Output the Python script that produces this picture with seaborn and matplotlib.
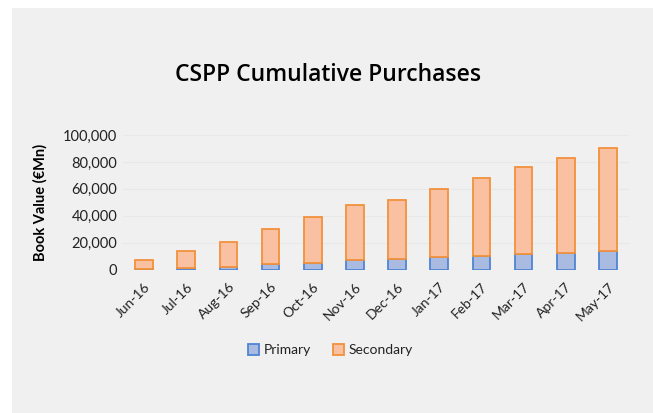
import numpy as np
import pandas as pd
import matplotlib
matplotlib.use("Agg")
import matplotlib.pyplot as plt
import seaborn as sns
from matplotlib.patches import Rectangle

# data (EUR mn, book value)
months = ["Jun-16", "Jul-16", "Aug-16", "Sep-16", "Oct-16", "Nov-16",
          "Dec-16", "Jan-17", "Feb-17", "Mar-17", "Apr-17", "May-17"]
primary = [500, 1000, 1700, 4000, 4700, 6700, 7700, 9200, 9700, 11200, 12100, 13900]
total = [7100, 13800, 20200, 30300, 38800, 47700, 51700, 60100, 67800, 76000, 82700, 90300]
secondary = [t - p for t, p in zip(total, primary)]

df = pd.DataFrame({"month": months, "Primary": primary, "Secondary": secondary})

sns.set_theme(style="white")
plt.rcParams["font.family"] = ["Lato", "DejaVu Sans"]

bg = "#f0f0f0"
fig = plt.figure(figsize=(6.53, 4.13), dpi=100, facecolor="white")
fig.patches.append(Rectangle((12 / 653, 0), 1, 1 - 8 / 413, transform=fig.transFigure,
                             facecolor=bg, edgecolor="none", zorder=-10))
ax = fig.add_axes([123 / 653, 1 - 269.5 / 413, 506 / 653, 134.5 / 413])
ax.set_facecolor(bg)

# stacked bars: primary at the bottom, secondary on top
sns.barplot(data=df, x="month", y="Primary", color="#aabbe2", edgecolor="#4f84d4",
            linewidth=1.3, width=0.42, ax=ax, label="Primary", saturation=1)
sns.barplot(data=df, x="month", y="Secondary", bottom=df["Primary"], color="#f9c0a1",
            edgecolor="#f2913c", linewidth=1.3, width=0.42, ax=ax, label="Secondary",
            saturation=1)

ax.set_ylim(0, 100000)
ax.set_yticks(np.arange(0, 100001, 20000))
ax.set_yticklabels([f"{v:,}" for v in range(0, 100001, 20000)], fontsize=10.5, color="#222222")
ax.set_xticks(range(len(months)))
ax.set_xticklabels(months, rotation=45, ha="right", rotation_mode="anchor",
                   fontsize=10, color="#222222")
ax.tick_params(axis="both", length=0, pad=4)
ax.tick_params(axis="x", pad=8)
ax.yaxis.grid(True, color="#e8e8e8", linewidth=0.8)
ax.set_axisbelow(True)
for s in ax.spines.values():
    s.set_visible(False)
ax.set_xlabel("")
ax.set_ylabel("Book Value (€Mn)", fontsize=10.5, fontweight="bold", color="black", labelpad=11)
ax.set_xlim(-0.5, len(months) - 0.5)

fig.text(328 / 653, 1 - 75 / 413, "CSPP Cumulative Purchases", ha="center", va="center",
         fontsize=16.5, fontweight="semibold", family=["Open Sans", "DejaVu Sans"],
         color="black")

leg = ax.legend(loc="center", bbox_to_anchor=(0.41, -0.6), ncol=2, frameon=False,
                fontsize=10, handlelength=0.8, handleheight=0.8, handletextpad=0.3,
                columnspacing=1.6)
for t in leg.get_texts():
    t.set_color("#222222")

fig.savefig("out.png", dpi=100, facecolor=fig.get_facecolor())
